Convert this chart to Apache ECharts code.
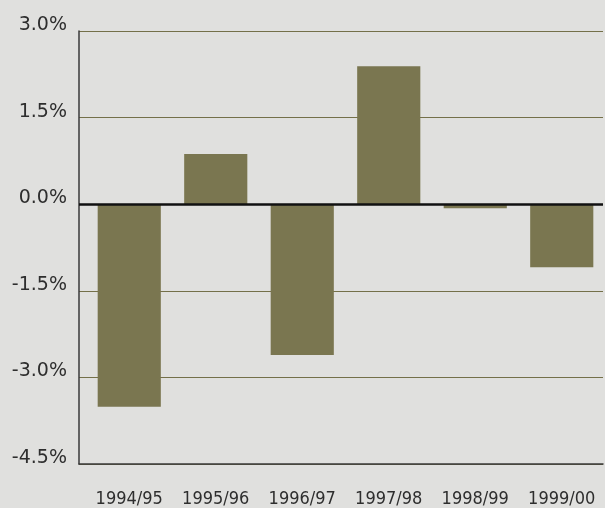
<!DOCTYPE html>
<html>
<head>
<meta charset="utf-8">
<script src="https://cdn.jsdelivr.net/npm/echarts@6/dist/echarts.min.js"></script>
<style>
  html, body { margin: 0; padding: 0; background: #e0e0de; }
  #chart { width: 605px; height: 508px; }
</style>
</head>
<body>
<div id="chart"></div>
<script>
var years = ['1994/95', '1995/96', '1996/97', '1997/98', '1998/99', '1999/00']
var change = [-3.51, 0.87, -2.61, 2.39, -0.07, -1.09]
var yTicks = { min: -4.5, max: 3.0, step: 1.5 }

var frameColor = '#3a3a3a'
var textColor = '#2e2e2e'

var chart = echarts.init(document.getElementById('chart'))
chart.setOption({
  backgroundColor: '#e0e0de',
  animation: false,
  // grid 0 = frame, gridlines, y labels; grid 1 = the bars, shifted a bit right
  grid: [
    { left: 79, right: 2, top: 31, bottom: 44 },
    { left: 86, right: 0, top: 31, bottom: 44 }
  ],
  xAxis: [
    {
      gridIndex: 0,
      type: 'value',
      min: 0,
      max: 1,
      axisLine: { show: true, onZero: false, lineStyle: { color: frameColor, width: 1.5 } },
      axisTick: { show: false },
      axisLabel: { show: false },
      splitLine: { show: false }
    },
    {
      gridIndex: 1,
      type: 'category',
      data: years,
      axisLine: { show: false },
      axisTick: { show: false },
      axisLabel: {
        interval: 0,
        margin: 26,
        fontSize: 18,
        color: textColor,
        fontFamily: 'DejaVu Sans Condensed, DejaVu Sans'
      }
    }
  ],
  yAxis: [
    {
      gridIndex: 0,
      type: 'value',
      min: yTicks.min,
      max: yTicks.max,
      interval: yTicks.step,
      axisLine: { show: true, lineStyle: { color: frameColor, width: 1.5 } },
      axisTick: { show: false },
      axisLabel: {
        margin: 12,
        fontSize: 19,
        lineHeight: 12,
        color: textColor,
        fontFamily: 'DejaVu Sans',
        verticalAlign: 'bottom',
        formatter: function (v) { return v.toFixed(1) + '%' }
      },
      splitLine: { lineStyle: { color: '#747049', width: 1.2 } }
    },
    {
      gridIndex: 1,
      type: 'value',
      min: yTicks.min,
      max: yTicks.max,
      interval: yTicks.step,
      axisLine: { show: false },
      axisTick: { show: false },
      axisLabel: { show: false },
      splitLine: { show: false }
    }
  ],
  series: [
    {
      type: 'line',
      xAxisIndex: 0,
      yAxisIndex: 0,
      data: [],
      markLine: {
        symbol: 'none',
        silent: true,
        label: { show: false },
        lineStyle: { color: '#111', width: 2.5, type: 'solid' },
        data: [{ yAxis: 0 }]
      }
    },
    {
      type: 'bar',
      xAxisIndex: 1,
      yAxisIndex: 1,
      data: change,
      barWidth: '73%',
      itemStyle: { color: '#7a7650' }
    }
  ]
})
</script>
</body>
</html>
